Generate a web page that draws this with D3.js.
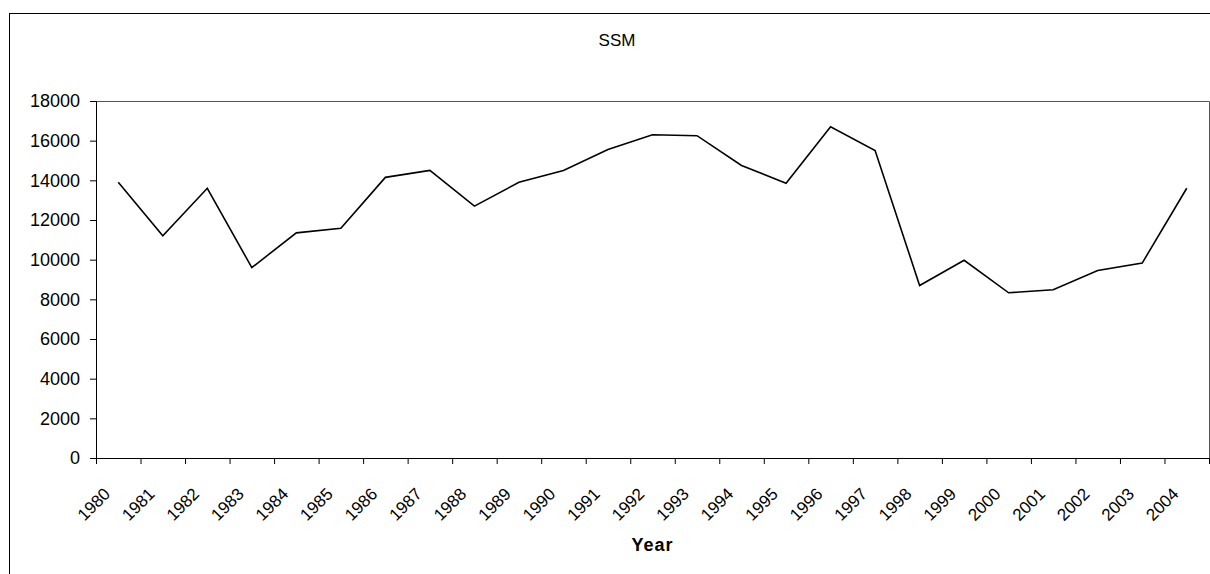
<!DOCTYPE html>
<html>
<head>
<style type="text/css">
body { margin: 0; background: #fff; }
.series { stroke: #000; stroke-width: 1.6; fill: none; }
.axis text { font-family: "Liberation Sans", Arial, sans-serif; font-size: 18px; fill: #000; }
.axis path, .axis line { stroke: #000; }
</style>
<script src="https://d3js.org/d3.v7.min.js"></script>
</head>
<body>
<script type="text/javascript">
var years = ["1980","1981","1982","1983","1984","1985","1986","1987","1988","1989",
	"1990","1991","1992","1993","1994","1995","1996","1997","1998","1999",
	"2000","2001","2002","2003","2004"];
var ssm = [13900, 11200, 13600, 9600, 11350, 11580, 14150, 14500, 12700, 13900,
	14500, 15550, 16300, 16250, 14750, 13850, 16700, 15500, 8700, 9970,
	8330, 8480, 9450, 9830, 13600];
var yTicks = [0, 2000, 4000, 6000, 8000, 10000, 12000, 14000, 16000, 18000];

var width = 1210, height = 574;
var plotL = 96, plotR = 1209, plotT = 101, plotB = 458;

var svg = d3.select("body").append("svg").attr("width", width).attr("height", height);

// outer chart border (clipped at right and bottom)
svg.append("rect").attr("x", 9.5).attr("y", 13.5).attr("width", 1240).attr("height", 600)
	.attr("fill", "none").attr("stroke", "#000");

var x = d3.scaleBand().domain(years).range([plotL, plotR]).padding(0);
var xEdge = d3.scaleLinear().domain([0, years.length]).range([plotL, plotR]);
var y = d3.scaleLinear().domain([0, 18000]).range([plotB, plotT]);

// plot frame top / right
svg.append("path").attr("d", "M" + plotL + "," + (plotT + 0.5) + "H" + (plotR + 0.5) + "V" + plotB)
	.attr("fill", "none").attr("stroke", "#555");

// y axis
svg.append("g").attr("class", "axis").attr("transform", "translate(" + plotL + ",0)")
	.call(d3.axisLeft(y).tickValues(yTicks).tickSize(6).tickPadding(10).tickFormat(d3.format("d")));

// x axis ticks at category boundaries
svg.append("g").attr("class", "axis").attr("transform", "translate(0," + plotB + ")")
	.call(d3.axisBottom(xEdge).tickValues(d3.range(years.length + 1)).tickSize(6).tickFormat(""));

// x labels, rotated
svg.append("g").attr("class", "axis").attr("transform", "translate(0," + plotB + ")")
	.call(d3.axisBottom(x).tickSize(0).tickPadding(0))
	.call(function(g) {
		g.select(".domain").remove();
		g.selectAll("text")
			.style("font-size", "17px")
			.attr("text-anchor", "end")
			.attr("y", 0)
			.attr("dy", null)
			.attr("transform", "translate(-7,37) rotate(-45)");
	});

var line = d3.line()
	.x(function(d, i) { return x(years[i]) + x.bandwidth() / 2; })
	.y(function(d) { return y(d); });

svg.append("path").datum(ssm).attr("class", "series").attr("d", line);

svg.append("text").attr("x", 617).attr("y", 46).attr("text-anchor", "middle")
	.style("font-family", "Liberation Sans, Arial, sans-serif").style("font-size", "17px")
	.text("SSM");

svg.append("text").attr("x", (plotL + plotR) / 2).attr("y", 551).attr("text-anchor", "middle")
	.style("font-family", "Liberation Sans, Arial, sans-serif").style("font-size", "18px")
	.style("font-weight", "bold").style("letter-spacing", "1px")
	.text("Year");
</script>
</body>
</html>
